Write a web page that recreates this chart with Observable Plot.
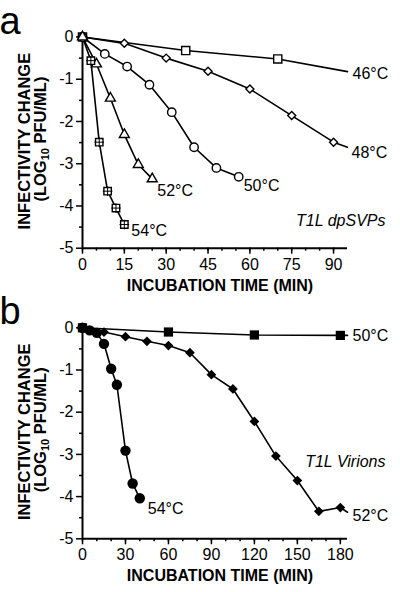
<!DOCTYPE html>
<html>
<head>
<meta charset="utf-8">
<script src="https://cdn.jsdelivr.net/npm/d3@7"></script>
<script src="https://cdn.jsdelivr.net/npm/@observablehq/plot@0.6"></script>
<style>
  html, body { margin: 0; padding: 0; background: white; }
  #chart svg { display: block; }
</style>
</head>
<body>
<div id="chart"></div>
<script>
// ---------- Panel a : T1L dpSVPs (time in min, log10 change) ----------
const aT46 = [0, 37, 70];
const aV46 = [0, -0.32, -0.52];
const aTail46 = [95, -0.82];
const aT48 = [0, 15, 30, 45, 60, 75, 90];
const aV48 = [0, -0.15, -0.50, -0.81, -1.23, -1.86, -2.49];
const aTail48 = [95, -2.61];
const aT50 = [0, 8, 16, 24, 32, 40, 48, 56];
const aV50 = [0, -0.40, -0.70, -1.13, -1.78, -2.61, -3.10, -3.31];
const aT52 = [0, 5, 10, 15, 20, 25];
const aV52 = [0, -0.64, -1.45, -2.31, -3.02, -3.36];
const aT54 = [0, 3, 6, 9, 12, 15];
const aV54 = [0, -0.56, -2.49, -3.65, -4.05, -4.44];
const aXTicks = [0, 15, 30, 45, 60, 75, 90];
const aXMinor = d3.range(0, 95, 5);

// ---------- Panel b : T1L Virions ----------
const bT50 = [0, 60, 120, 180];
const bV50 = [0, -0.10, -0.17, -0.18];
const bTail50 = [185, -0.18];
const bT52 = [0, 15, 30, 45, 60, 75, 90, 105, 120, 135, 150, 165, 180];
const bV52 = [0, -0.10, -0.21, -0.32, -0.42, -0.59, -1.11, -1.45, -2.22, -3.04, -3.62, -4.35, -4.26];
const bTail52 = [185, -4.37];
const bT54 = [0, 5, 10, 15, 20, 24, 30, 35, 40];
const bV54 = [0, -0.06, -0.12, -0.38, -0.97, -1.35, -2.91, -3.69, -4.04];
const bXTicks = [0, 30, 60, 90, 120, 150, 180];
const bXMinor = d3.range(0, 185, 10);

const yTicks = [0, -1, -2, -3, -4, -5];
const yMinor = [-0.5, -1.5, -2.5, -3.5, -4.5];

const yTitle1 = "INFECTIVITY CHANGE";
const xTitle = "INCUBATION TIME (MIN)";
const FONT = "'Liberation Sans', Arial, Helvetica, sans-serif";

function tailLine(T, V, tail) {
  return Plot.line([0, 1], {x: [T[T.length - 1], tail[0]], y: [V[V.length - 1], tail[1]], stroke: "black", strokeWidth: 1.6});
}
function series(T, V) {
  return Plot.line(V, {x: T, y: V, stroke: "black", strokeWidth: 1.6});
}
function label(txt, x, y, opts) {
  return Plot.text([txt], {x: [x], y: [y], text: d => d, textAnchor: "start", fontSize: 16, ...opts});
}

function axes(xDomain, xTicks, xMinor) {
  return [
    Plot.axisY({ticks: yMinor, tickSize: 3, tickFormat: () => "", strokeWidth: 1.5, label: null}),
    Plot.axisY({ticks: yTicks, tickSize: 6, tickPadding: 3, tickFormat: d => String(d), strokeWidth: 1.5, label: null, fontSize: 16}),
    Plot.axisX({ticks: xMinor, tickSize: 3, tickFormat: () => "", strokeWidth: 1.5, label: null}),
    Plot.axisX({ticks: xTicks, tickSize: 6, tickPadding: 4, tickFormat: d => String(d), strokeWidth: 1.5, label: null, fontSize: 16}),
    Plot.ruleX([0], {y1: -5, y2: 0, stroke: "black", strokeWidth: 2}),
    Plot.ruleY([-5], {x1: 0, x2: xDomain[1], stroke: "black", strokeWidth: 2})
  ];
}

function decorate(svg, letter, mTop, plotBottom) {
  const s = d3.select(svg);
  const cy = (mTop + plotBottom) / 2 - 1;
  s.append("text").attr("x", 10).attr("y", mTop - 3).attr("font-size", 38)
    .attr("font-family", FONT).text(letter);
  const g = s.append("g").attr("font-family", FONT).attr("font-weight", "bold")
    .attr("font-size", 16.5).attr("text-anchor", "middle");
  g.append("text").attr("transform", `translate(24,${cy}) rotate(-90)`).attr("dy", "0.36em").text(yTitle1);
  const t2 = g.append("text").attr("transform", `translate(40,${cy - 2}) rotate(-90)`).attr("dy", "0.36em");
  t2.append("tspan").text("(LOG");
  t2.append("tspan").attr("font-size", 11).attr("dy", "0.3em").text("10");
  t2.append("tspan").attr("dy", "-0.2em").text(" PFU/ML)");
  s.append("text").attr("x", 220).attr("y", plotBottom + 43).attr("font-family", FONT)
    .attr("font-weight", "bold").attr("font-size", 16).attr("text-anchor", "middle").text(xTitle);
}

const style = {fontFamily: FONT, fontSize: "16px", color: "black", background: "white", overflow: "visible"};

// ---- Panel a
const aTop = 36.5, aBottom = 48.3;
const svgA = Plot.plot({
  width: 400, height: 296, marginLeft: 82, marginRight: 53, marginTop: aTop, marginBottom: aBottom,
  style,
  x: {domain: [0, 95]},
  y: {domain: [-5, 0]},
  marks: [
    ...axes([0, 95], aXTicks, aXMinor),
    series(aT46, aV46), tailLine(aT46, aV46, aTail46),
    series(aT48, aV48), tailLine(aT48, aV48, aTail48),
    series(aT50, aV50), series(aT52, aV52), series(aT54, aV54),
    Plot.dot(aV46, {x: aT46, y: aV46, symbol: "square", r: 4.6, fill: "white", stroke: "black", strokeWidth: 1.4}),
    Plot.dot(aV48, {x: aT48, y: aV48, symbol: "diamond2", r: 3.6, fill: "white", stroke: "black", strokeWidth: 1.4}),
    Plot.dot(aV50, {x: aT50, y: aV50, symbol: "circle", r: 4.2, fill: "white", stroke: "black", strokeWidth: 1.4}),
    Plot.dot(aV52, {x: aT52, y: aV52, symbol: "triangle", r: 3.7, fill: "white", stroke: "black", strokeWidth: 1.4}),
    Plot.dot(aV54.slice(1), {x: aT54.slice(1), y: aV54.slice(1), symbol: "square", r: 4.2, fill: "white", stroke: "black", strokeWidth: 1.4}),
    Plot.dot(aV54.slice(1), {x: aT54.slice(1), y: aV54.slice(1), symbol: "plus", r: 3.2, stroke: "black", strokeWidth: 1}),
    label("46°C", aTail46[0], aTail46[1], {dx: 5, dy: 2}),
    label("48°C", aTail48[0], aTail48[1], {dx: 4, dy: 6}),
    label("50°C", aT50[aT50.length - 1], aV50[aV50.length - 1], {dx: 5, dy: 9}),
    label("52°C", aT52[aT52.length - 1], aV52[aV52.length - 1], {dx: 5, dy: 12}),
    label("54°C", aT54[aT54.length - 1], aV54[aV54.length - 1], {dx: 7, dy: 6}),
    Plot.text(["T1L dpSVPs"], {frameAnchor: "bottom-right", text: d => d, dx: 38, dy: -22, fontStyle: "italic", fontSize: 16, textAnchor: "end"})
  ]
});
decorate(svgA, "a", aTop, 296 - aBottom);

// ---- Panel b
const bTop = 31.3, bBottom = 53.7;
const svgB = Plot.plot({
  width: 400, height: 296, marginLeft: 82, marginRight: 53, marginTop: bTop, marginBottom: bBottom,
  style,
  x: {domain: [0, 185]},
  y: {domain: [-5, 0]},
  marks: [
    ...axes([0, 185], bXTicks, bXMinor),
    series(bT50, bV50), tailLine(bT50, bV50, bTail50),
    series(bT52, bV52), tailLine(bT52, bV52, bTail52),
    series(bT54, bV54),
    Plot.dot(bV54, {x: bT54, y: bV54, symbol: "circle", r: 5.2, fill: "black"}),
    Plot.dot(bV52, {x: bT52, y: bV52, symbol: "diamond2", r: 4.4, fill: "black"}),
    Plot.dot(bV50, {x: bT50, y: bV50, symbol: "square", r: 5.2, fill: "black"}),
    label("50°C", bTail50[0], bTail50[1], {dx: 5, dy: 0}),
    label("52°C", bTail52[0], bTail52[1], {dx: 5, dy: 4}),
    label("54°C", bT54[bT54.length - 1], bV54[bV54.length - 1], {dx: 8, dy: 11}),
    Plot.text(["T1L Virions"], {frameAnchor: "bottom-right", text: d => d, dx: 38, dy: -72, fontStyle: "italic", fontSize: 16, textAnchor: "end"})
  ]
});
decorate(svgB, "b", bTop, 296 - bBottom);

document.getElementById("chart").append(svgA, svgB);
</script>
</body>
</html>
